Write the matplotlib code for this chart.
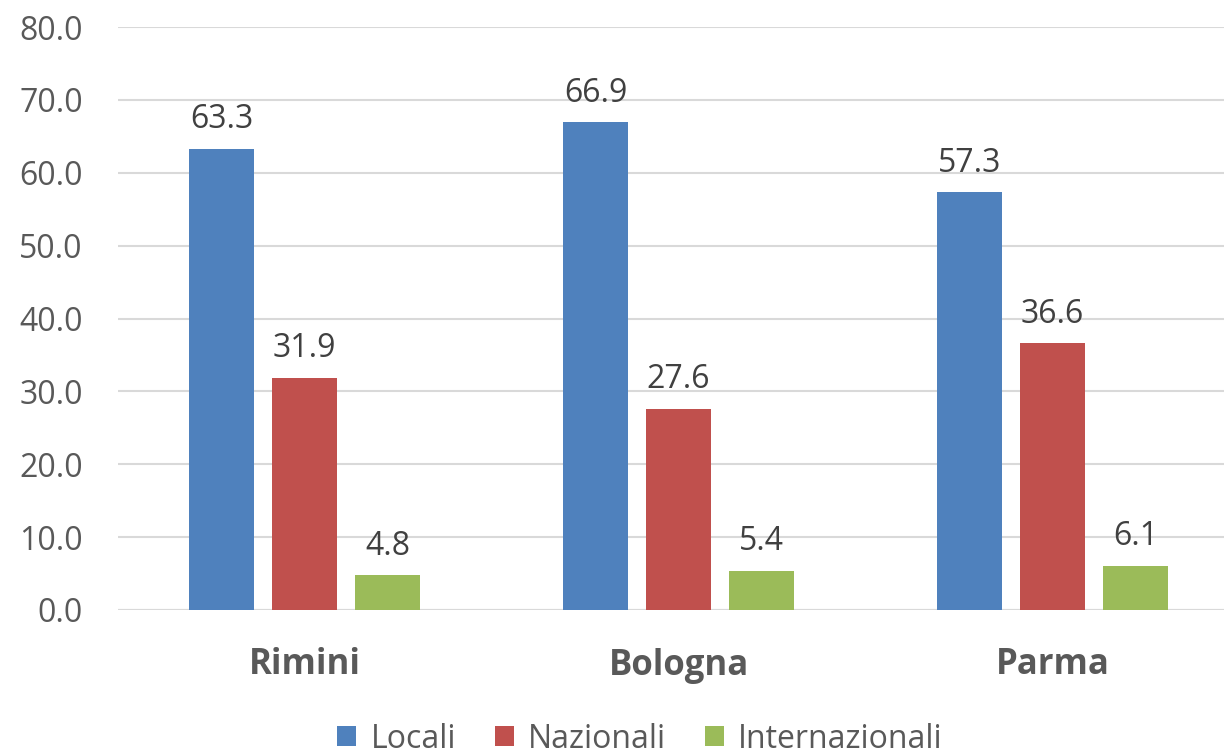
import matplotlib
matplotlib.use("Agg")
import matplotlib.pyplot as plt
import numpy as np
from matplotlib.patches import Patch

categories = ["Rimini", "Bologna", "Parma"]
series_names = ["Locali", "Nazionali", "Internazionali"]
locali = [63.3, 66.9, 57.3]
nazionali = [31.9, 27.6, 36.6]
internazionali = [4.8, 5.4, 6.1]
yticks = [0, 10, 20, 30, 40, 50, 60, 70, 80]

colors = ["#4f81bd", "#c0504d", "#9bbb59"]
plt.rcParams['font.family'] = ['Open Sans', 'DejaVu Sans']

W, H = 1224, 754
fig = plt.figure(figsize=(W / 100, H / 100), dpi=100)
left, right = 117.5, 1239.5
bottom, top = 610, 27
ax = fig.add_axes([left / W, (H - bottom) / H, (right - left) / W, (bottom - top) / H])

x = np.arange(len(categories))
bw = 65 / 374
step = 83 / 374
data = [locali, nazionali, internazionali]
for i, (vals, c) in enumerate(zip(data, colors)):
    pos = x + (i - 1) * step
    ax.bar(pos, vals, width=bw, color=c, zorder=3)
    for p, v in zip(pos, vals):
        ax.annotate(f"{v:.1f}", (p, v), xytext=(0, 9), textcoords="offset points",
                    ha="center", va="bottom", fontsize=23, color="#404040")

ax.set_xlim(-0.5, 2.5)
ax.set_ylim(0, 80)
ax.set_yticks(yticks)
ax.set_yticklabels([f"{t:.1f}" for t in yticks], fontsize=23, color="#595959")
ax.set_xticks(x)
ax.set_xticklabels(categories, fontsize=25, fontweight="bold", color="#595959")
ax.tick_params(axis="both", length=0)
ax.tick_params(axis="y", pad=25)
ax.tick_params(axis="x", pad=27)
ax.grid(axis="y", color="#d9d9d9", linewidth=1.5, zorder=0)
for s in ax.spines.values():
    s.set_visible(False)
ax.axhline(0, color="#d9d9d9", linewidth=1.5, zorder=2)

handles = [Patch(facecolor=c, edgecolor="none") for c in colors]
fig.legend(handles, series_names, loc="center", bbox_to_anchor=(640 / W, 1 - 739 / H),
           ncol=3, frameon=False, fontsize=23, labelcolor="#595959",
           handlelength=0.6, handleheight=0.6, handletextpad=0.45, columnspacing=1.2,
           borderpad=0, borderaxespad=0)

fig.savefig("out.png", dpi=100)
